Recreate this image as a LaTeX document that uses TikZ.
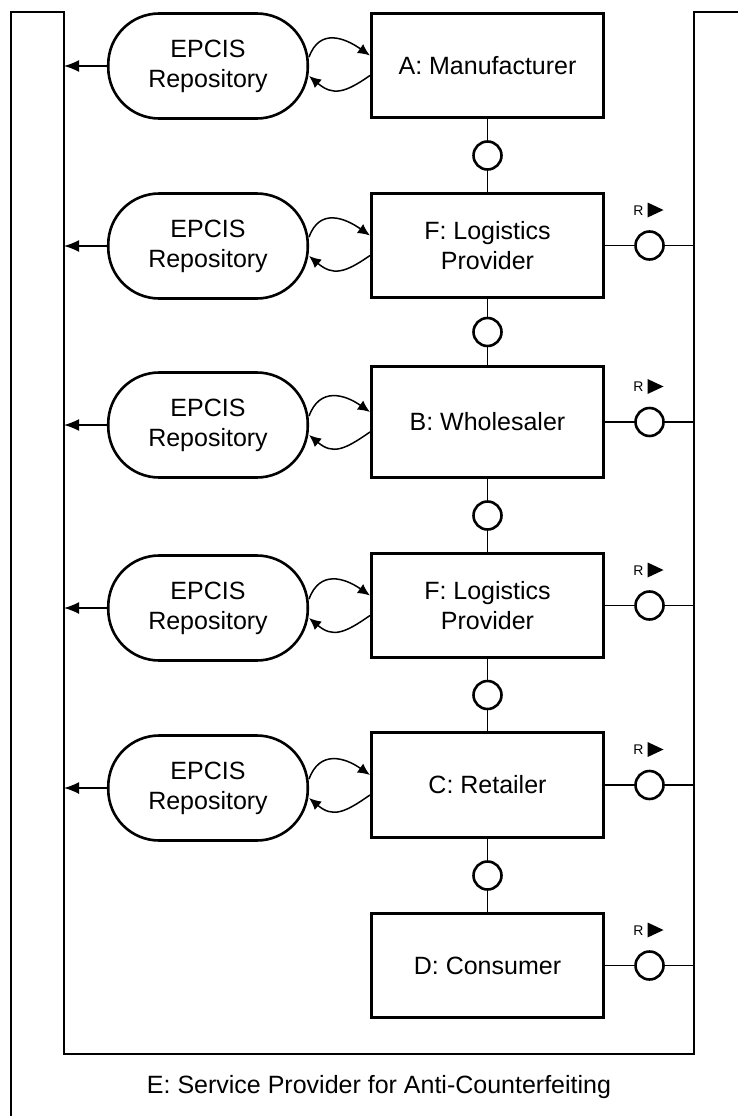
\documentclass[tikz,border=0pt]{standalone}
\usepackage{fontspec}
\setmainfont{Liberation Sans}
\usetikzlibrary{arrows.meta,calc}
\begin{document}
\begin{tikzpicture}[x=1pt,y=-1pt,
  thickline/.style={line width=2.6pt,line join=miter},
  actor/.style={draw,line width=2.6pt,minimum width=232.5pt,minimum height=104.5pt,inner sep=0pt,align=center,font=\fontsize{25}{30}\selectfont},
  repo/.style={draw,line width=2.6pt,rounded corners=51pt,minimum width=199.5pt,minimum height=105pt,inner sep=0pt,align=center,font=\fontsize{25}{30}\selectfont},
  ring/.style={draw,circle,line width=2.6pt,fill=white,minimum size=28pt,inner sep=0pt},
  conn/.style={line width=1.5pt},
  outarrow/.style={conn,-{Latex[length=15pt,width=12pt]}},
  looparrow/.style={conn,-{Latex[length=12pt,width=11pt]}},
  rlabel/.style={font=\fontsize{14}{14}\selectfont,inner sep=0pt}
]
\useasboundingbox (0,0) rectangle (738,1116);
\fill[white] (0,0) rectangle (738,1116);

% frame of E
\coordinate (innerL) at (64,12);
\coordinate (innerR) at (694,12);
\draw[thickline] (11,1116) -- (11,12) -- (innerL) -- (64,1054) -- (694,1054) -- (innerR) -- (738,12);

% actors
\node[actor] (a)  at (487.5,65.5)  {A: Manufacturer};
\node[actor] (f1) at (487.5,245.5) {F: Logistics\\Provider};
\node[actor,minimum height=111.5pt] (b) at (487.5,422) {B: Wholesaler};
\node[actor] (f2) at (487.5,605.5) {F: Logistics\\Provider};
\node[actor,minimum height=105.5pt] (c) at (487.5,785) {C: Retailer};
\node[actor] (d)  at (487.5,965.5) {D: Consumer};

% repositories
\node[repo] (r1) at (208,66)  {EPCIS\\Repository};
\node[repo] (r2) at (208,246) {EPCIS\\Repository};
\node[repo] (r3) at (208,425) {EPCIS\\Repository};
\node[repo] (r4) at (208,608) {EPCIS\\Repository};
\node[repo] (r5) at (208,788) {EPCIS\\Repository};

% arrows to E
\foreach \r in {r1,r2,r3,r4,r5}{
  \draw[outarrow] (\r.west) -- (\r.west -| innerL);
}

% capture / query loops
\foreach \r/\k in {r1/a,r2/f1,r3/b,r4/f2,r5/c}{
  \draw[looparrow] ([yshift=9pt]\r.east) to[out=70,in=145,looseness=1.3] ([yshift=10pt]\k.west);
  \draw[looparrow] ([yshift=-10pt]\k.west) to[out=215,in=-40,looseness=1.3] ([yshift=-10pt]\r.east);
}

% chain connectors
\draw[conn] (a) -- (f1) node[ring,midway] (c1) {};
\draw[conn] (f1) -- (b) node[ring,midway] (c2) {};
\draw[conn] (b) -- (f2) node[ring,midway] (c3) {};
\draw[conn] (f2) -- (c) node[ring,midway] (c4) {};
\draw[conn] (c) -- (d) node[ring,midway] (c5) {};

% connectors to E with R
\foreach \k/\n in {f1/q1,b/q2,f2/q3,c/q4,d/q5}{
  \draw[conn] (\k.east) -- (\k.east -| innerR) node[ring,midway] (\n) {};
  \node[rlabel] (\n l) at ($(\n)+(-11,-35)$) {R};
  \fill ($(\n)+(-2,-43)$) -- ++(16,7.5) -- ++(-16,7.5) -- cycle;
}

% caption
\node[font=\fontsize{25}{30}\selectfont] (e) at (379,1087) {E: Service Provider for Anti-Counterfeiting};
\end{tikzpicture}
\end{document}
